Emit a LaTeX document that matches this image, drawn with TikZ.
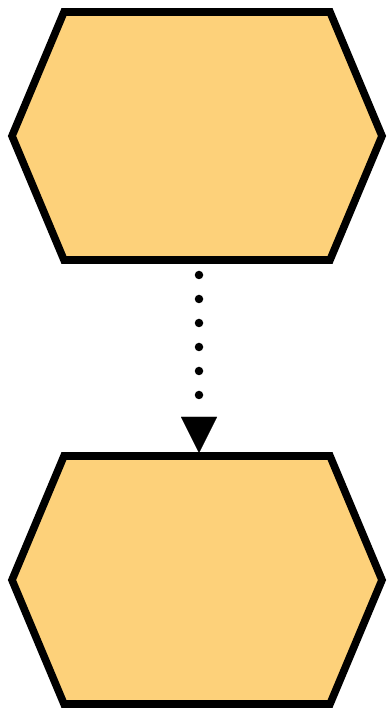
\documentclass[tikz,border=0pt]{standalone}
\usetikzlibrary{arrows.meta}
\definecolor{hexfill}{HTML}{FDD17A}
\tikzset{
  hexbox/.style={minimum width=370pt, minimum height=248pt, inner sep=0pt, outer sep=0pt},
  hexline/.style={draw=black, fill=hexfill, line width=7.6pt, line join=miter},
  dotlink/.style={line width=8.5pt, line cap=round, dash pattern=on 0pt off 24pt,
    -{Triangle[length=36pt,width=36pt,line width=0.01pt]}}
}
\begin{document}
\begin{tikzpicture}[x=1pt,y=1pt]
\useasboundingbox (0,0) rectangle (387,711);
\node[hexbox] (top) at (197,575) {};
\node[hexbox] (bot) at (197,131) {};
\foreach \n in {top,bot}{
  \draw[hexline] ([xshift=52pt]\n.north west) -- ([xshift=-52pt]\n.north east) -- (\n.east)
    -- ([xshift=-52pt]\n.south east) -- ([xshift=52pt]\n.south west) -- (\n.west) -- cycle;
}
\draw[dotlink] ([xshift=2pt,yshift=-15pt]top.south) -- ([xshift=2pt,yshift=3pt]bot.north);
\end{tikzpicture}
\end{document}
